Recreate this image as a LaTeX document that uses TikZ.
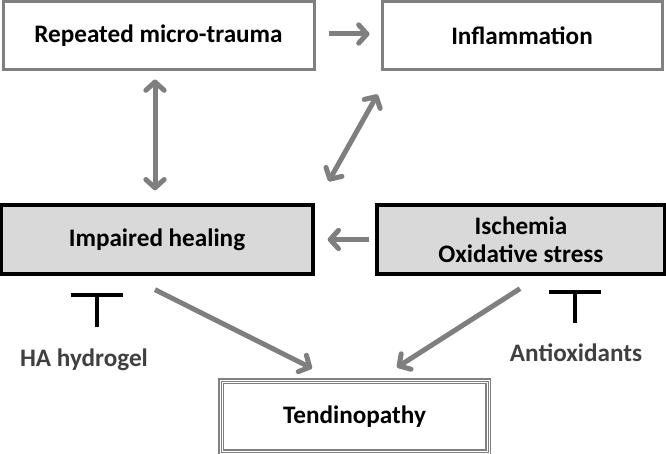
\documentclass[tikz,border=0pt]{standalone}
\usepackage{fontspec}
\setmainfont{Carlito}
\usepackage{tikz}
\usetikzlibrary{arrows.meta, calc}
\definecolor{arrowgray}{HTML}{7F7F7F}
\definecolor{framegray}{HTML}{808080}
\definecolor{boxfill}{HTML}{D9D9D9}
\definecolor{labeldark}{HTML}{404040}
\newcommand{\pxu}{0.03cm}

\begin{document}
\begin{tikzpicture}[x=0.03cm, y=-0.03cm,
  every node/.style={font=\fontsize{21.5}{24}\selectfont\bfseries, align=center, inner sep=0pt},
  openbox/.style={draw=framegray, line width=0.09cm, fill=white},
  greybox/.style={draw=black, line width=0.1cm, fill=boxfill},
  finalbox/.style={draw=framegray, double=white, double distance=0.09cm, line width=0.04cm,
    postaction={draw=framegray, line width=0.025cm}},
  agent/.style={text=labeldark, font=\fontsize{21.5}{24}\selectfont\bfseries},
  flow/.style={draw=arrowgray, line width=0.15cm, -{Straight Barb[round, length=0.25cm, width=0.55cm]}},
  flowboth/.style={flow, {Straight Barb[round, length=0.25cm, width=0.55cm]}-{Straight Barb[round, length=0.25cm, width=0.55cm]}},
  block/.style={draw=black, line width=0.12cm, -{Bar[width=1.55cm]}}]

  % Canvas
  \useasboundingbox (0,0) rectangle (666,454);

  % Top row
  \node[openbox, minimum width=311*\pxu, minimum height=68*\pxu] (trauma) at (158.5,36) {Repeated micro-trauma};
  \node[openbox, minimum width=280*\pxu, minimum height=68*\pxu] (inflam) at (522,36) {Inflammation};

  % Middle row
  \node[greybox, minimum width=312*\pxu, minimum height=69*\pxu] (healing) at (157,239.5) {Impaired healing};
  \node[greybox, minimum width=288*\pxu, minimum height=69*\pxu] (ischemia) at (521,239.5) {Ischemia\\Oxidative stress};

  % Outcome
  \node[finalbox, minimum width=267*\pxu, minimum height=71*\pxu] (tendino) at (354.5,416.5) {Tendinopathy};

  % Treatments
  \node[agent] (hydrogel) at (84,360) {HA hydrogel};
  \node[agent] (antiox) at (576,353) {Antioxidants};
  \coordinate (hgbase) at (97,327);
  \coordinate (hgbar) at (97,293);
  \coordinate (aobase) at (575,323);
  \coordinate (aobar) at (575,290);

  % Arrows
  \draw[flow, shorten <=13*\pxu, shorten >=11*\pxu] (trauma.east |- 0,34) -- (inflam.west |- 0,34);
  \draw[flowboth] ($(trauma.south)+(-3.5,8)$) -- ($(trauma.south |- healing.north)+(-3.5,-13)$);
  \draw[flowboth] ($(healing.north east)+(14,-22)$) -- ($(inflam.south west)+(-3,23)$);
  \draw[flow] ($(ischemia.west)+(-6,0)$) -- ($(healing.east)+(13,0)$);
  \draw[flow] ($(healing.south)+(-2,14)$) -- ($(tendino.north)+(-42.5,-12)$);
  \draw[flow] ($(ischemia.south)+(-1,13)$) -- ($(tendino.north)+(42.5,-13)$);

  % Inhibition marks
  \draw[block] (hgbase) -- (hgbar);
  \draw[block] (aobase) -- (aobar);
\end{tikzpicture}
\end{document}
